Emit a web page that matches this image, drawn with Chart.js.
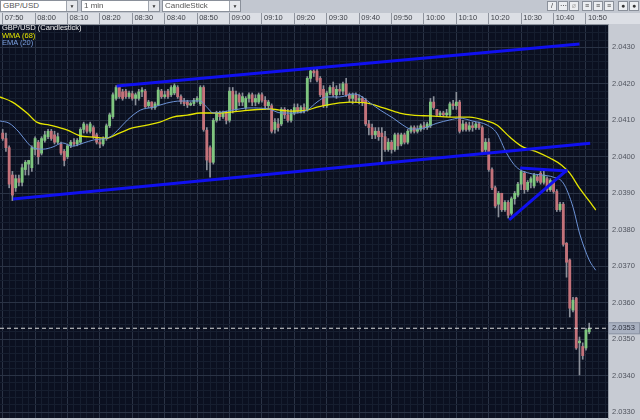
<!DOCTYPE html>
<html>
<head>
<meta charset="utf-8">
<script src="https://cdn.jsdelivr.net/npm/chart.js@4"></script>
<style>
  body { margin: 0; background: #c2c7d0; }
  #wrap { position: relative; width: 640px; height: 420px; overflow: hidden; font-family: "Liberation Sans", Arial, sans-serif; }
  #chart { position: absolute; left: 0; top: 0; }
  .sel { position: absolute; top: 0; height: 12px; background: #fff; border: 1px solid #8a909a; box-sizing: border-box;
         font-size: 8px; line-height: 10px; color: #555; padding-left: 2px; }
  .arr { position: absolute; right: 0; top: 0; width: 10px; height: 10px; background: #e6e8ec; border-left: 1px solid #a0a5ae;
         font-size: 5px; line-height: 10px; text-align: center; color: #333; }
  .ico { position: absolute; top: 1px; width: 10px; height: 10px; background: #eceef1; border: 1px solid #8a909a; box-sizing: border-box;
         font-size: 7px; line-height: 8px; text-align: center; color: #333; }
  #legend { position: absolute; left: 2px; top: 24px; font-size: 7.5px; line-height: 7.6px; }
</style>
</head>
<body>
<div id="wrap">
  <canvas id="chart" width="640" height="420"></canvas>
  <div class="sel" style="left:0;width:78px">GBP/USD<span class="arr">▼</span></div>
  <div class="sel" style="left:81px;width:79px">1 min<span class="arr">▼</span></div>
  <div class="sel" style="left:162px;width:79px">CandleStick<span class="arr">▼</span></div>
  <div class="ico" style="left:547px">/</div>
  <div class="ico" style="left:558px">⋯</div>
  <div class="ico" style="left:569px;color:#aaa">ø</div>
  <div class="ico" style="left:582px">≡</div>
  <div class="ico" style="left:593px">≡</div>
  <div class="ico" style="left:604px">≡</div>
  <div class="ico" style="left:618px">●</div>
  <div class="ico" style="left:629px">●</div>
  <div id="legend">
    <div style="color:#f0f0f0">GBP/USD (Candlestick)</div>
    <div style="color:#e6e600">WMA (68)</div>
    <div style="color:#7aa0e0">EMA (20)</div>
  </div>
</div>
<script>
// time labels on the top axis, one every 10 minutes from 07:50
const timeLabels = ['07:50','08:00','08:10','08:20','08:30','08:40','08:50','09:00','09:10','09:20',
  '09:30','09:40','09:50','10:00','10:10','10:20','10:30','10:40','10:50'];
const lastPrice = 2.0353;

// 1 minute candles, index = minutes after 07:50
const opens = [
  2.04065,2.0405,2.04025,2.0395,2.03915,2.0394,2.0393,2.03965,2.0398,2.0397,
  2.0402,2.0404,2.0401,2.04045,2.04055,2.0407,2.0406,2.0404,2.04035,2.04015,
  2.04,2.0403,2.0404,2.04035,2.0404,2.04075,2.04085,2.0407,2.0408,2.0406,
  2.0404,2.04035,2.0405,2.04085,2.0411,2.0416,2.0419,2.04178,2.0418,2.04165,
  2.04173,2.0416,2.0416,2.04178,2.0418,2.0414,2.0415,2.04135,2.04142,2.0418,
  2.04165,2.0418,2.0417,2.04175,2.0419,2.04165,2.04151,2.0415,2.04142,2.04146,
  2.04155,2.04145,2.0419,2.04073,2.04025,2.03985,2.041,2.0412,2.0411,2.0412,
  2.041,2.0418,2.0413,2.0417,2.0415,2.04135,2.0416,2.0417,2.0415,2.0415,
  2.0417,2.04155,2.0414,2.0414,2.04075,2.0409,2.0409,2.0413,2.04115,2.041,
  2.0412,2.04135,2.04125,2.04135,2.0413,2.04215,2.04235,2.04235,2.04215,2.04185,
  2.0414,2.04175,2.0419,2.0417,2.04185,2.0418,2.042,2.0417,2.0416,2.0417,
  2.04155,2.0416,2.04155,2.0409,2.0408,2.0406,2.0407,2.04065,2.04055,2.0402,
  2.0404,2.0402,2.0406,2.04035,2.0406,2.0404,2.0407,2.0408,2.0407,2.04075,
  2.04085,2.0408,2.04085,2.0415,2.0413,2.04115,2.0412,2.04115,2.04115,2.04145,
  2.0414,2.0415,2.04075,2.0409,2.04075,2.04085,2.0408,2.0409,2.0408,2.0402,
  2.0404,2.03965,2.03915,2.0387,2.039,2.03855,2.03875,2.03845,2.03885,2.03895,
  2.03925,2.03955,2.0391,2.0393,2.0392,2.03945,2.03955,2.0393,2.0394,2.0391,
  2.0393,2.03905,2.03855,2.0387,2.03763,2.03717,2.0358,2.03613,2.0349,2.0348,
  2.03476,2.0352
];
const highs = [
  2.04075,2.04065,2.0403,2.0396,2.0395,2.0395,2.0398,2.0399,2.0399,2.0403,
  2.04055,2.04045,2.04055,2.0407,2.04075,2.04075,2.0407,2.04065,2.0404,2.0402,
  2.04035,2.04045,2.0405,2.0405,2.0408,2.04095,2.0409,2.04095,2.04085,2.04065,
  2.0405,2.04055,2.0409,2.0412,2.04175,2.04195,2.04195,2.04185,2.04185,2.0418,
  2.0418,2.04175,2.04185,2.0419,2.04185,2.04155,2.04151,2.0415,2.0419,2.04185,
  2.0418,2.04185,2.04195,2.042,2.04195,2.0417,2.0416,2.04155,2.0415,2.0416,
  2.04165,2.04195,2.04195,2.0408,2.0403,2.04105,2.04125,2.04125,2.04125,2.04125,
  2.0419,2.0419,2.0418,2.04175,2.04175,2.04165,2.04175,2.04175,2.0417,2.04175,
  2.04175,2.04165,2.04155,2.04145,2.04105,2.04105,2.04135,2.04135,2.0413,2.0413,
  2.04145,2.04145,2.0414,2.04145,2.0422,2.0424,2.04243,2.0424,2.0422,2.04195,
  2.0418,2.04195,2.04205,2.04195,2.042,2.04205,2.04215,2.04175,2.04175,2.04175,
  2.0417,2.04165,2.0416,2.041,2.0409,2.0408,2.0408,2.0408,2.0407,2.0405,
  2.04045,2.04065,2.04065,2.04065,2.04065,2.04075,2.04085,2.04085,2.04085,2.0409,
  2.04095,2.04095,2.0416,2.04165,2.0413,2.04125,2.04125,2.0413,2.0415,2.04155,
  2.04177,2.04155,2.041,2.04095,2.04095,2.04095,2.04095,2.04095,2.04085,2.0405,
  2.0405,2.0397,2.0392,2.03905,2.039,2.0388,2.0388,2.0389,2.03905,2.0393,
  2.03964,2.0396,2.03935,2.03945,2.03955,2.0395,2.0396,2.0396,2.03945,2.0394,
  2.03935,2.0391,2.03875,2.03875,2.03765,2.0372,2.03615,2.03615,2.03506,2.0349,
  2.0353,2.03544
];
const lows = [
  2.04045,2.04015,2.03915,2.0388,2.03905,2.0392,2.0392,2.0395,2.0395,2.0396,
  2.04005,2.0398,2.04005,2.0404,2.0405,2.04045,2.04035,2.04035,2.04005,2.03975,
  2.03995,2.04025,2.0403,2.0403,2.04035,2.04065,2.04065,2.04065,2.0405,2.04035,
  2.04025,2.0403,2.04045,2.0408,2.04105,2.04155,2.0416,2.04155,2.0416,2.0416,
  2.04155,2.04142,2.04155,2.04165,2.04135,2.04135,2.0413,2.0413,2.0414,2.0416,
  2.0416,2.0416,2.04165,2.0417,2.0416,2.04145,2.0414,2.04135,2.0414,2.0414,
  2.0415,2.0414,2.0407,2.03964,2.03944,2.0398,2.04095,2.041,2.04105,2.0409,
  2.04095,2.0412,2.04125,2.0414,2.0414,2.0413,2.0415,2.0414,2.0414,2.04145,
  2.0415,2.0413,2.0413,2.04065,2.04065,2.0407,2.04085,2.04105,2.04095,2.04095,
  2.04115,2.0412,2.0412,2.0412,2.04125,2.04205,2.0422,2.04205,2.04165,2.04135,
  2.04135,2.0417,2.04165,2.0416,2.0417,2.0417,2.04165,2.0415,2.04145,2.0415,
  2.04145,2.0414,2.04085,2.0406,2.0405,2.0405,2.04045,2.03985,2.04015,2.04015,
  2.0401,2.04015,2.0402,2.0403,2.04035,2.04035,2.04065,2.04065,2.04065,2.0407,
  2.04075,2.04075,2.0408,2.0413,2.0411,2.0411,2.0411,2.0411,2.0411,2.0413,
  2.0413,2.04065,2.0407,2.0407,2.0407,2.0407,2.04075,2.04075,2.0401,2.0401,
  2.0396,2.0391,2.0386,2.03835,2.0385,2.0385,2.03832,2.0384,2.0387,2.0389,
  2.0391,2.039,2.03905,2.03915,2.03915,2.0393,2.03925,2.03925,2.03905,2.03905,
  2.039,2.0385,2.0385,2.03755,2.0367,2.03561,2.03575,2.03472,2.03402,2.03445,
  2.0347,2.03515
];
const closes = [
  2.0405,2.04025,2.03925,2.03895,2.0394,2.0393,2.0397,2.03985,2.0399,2.04025,
  2.0405,2.04,2.0405,2.0406,2.0407,2.0405,2.0404,2.04055,2.0401,2.0399,
  2.0403,2.0404,2.04035,2.04045,2.04075,2.0409,2.0407,2.0409,2.04055,2.0404,
  2.04035,2.0405,2.04085,2.04115,2.0417,2.0419,2.04165,2.0416,2.04165,2.04175,
  2.0416,2.0417,2.04178,2.04183,2.04137,2.0415,2.04135,2.04145,2.04183,2.04165,
  2.0417,2.04165,2.0419,2.04195,2.04165,2.04151,2.04146,2.04142,2.04146,2.04155,
  2.0416,2.0419,2.04075,2.03991,2.03985,2.041,2.0412,2.0411,2.0412,2.041,
  2.0418,2.0413,2.0417,2.0415,2.04165,2.0416,2.0417,2.0415,2.0416,2.0417,
  2.04155,2.0414,2.0415,2.0407,2.04095,2.0408,2.0413,2.04115,2.041,2.0412,
  2.04135,2.04125,2.04135,2.0413,2.04215,2.04235,2.0423,2.0421,2.0417,2.0414,
  2.04175,2.0419,2.0417,2.04185,2.0418,2.042,2.0417,2.0416,2.0417,2.04155,
  2.0416,2.0415,2.0409,2.0408,2.0406,2.0407,2.04055,2.04055,2.0402,2.0404,
  2.0402,2.0406,2.0403,2.0406,2.0404,2.0407,2.0408,2.0407,2.04075,2.04085,
  2.0408,2.0409,2.0415,2.04135,2.04115,2.0412,2.04115,2.0412,2.04145,2.0414,
  2.0415,2.0407,2.0409,2.04075,2.04085,2.0408,2.0409,2.0408,2.04015,2.0404,
  2.03965,2.03915,2.03865,2.039,2.03855,2.03875,2.0384,2.03885,2.039,2.03925,
  2.0396,2.0391,2.0393,2.0394,2.0395,2.03935,2.0393,2.0395,2.0391,2.03935,
  2.03905,2.03855,2.0387,2.0376,2.03711,2.03585,2.03607,2.03476,2.03495,2.03455,
  2.03525,2.0353
];

// WMA (68)
const wmaMinutes = [-0.8,3,7.5,10.5,14.5,20,24,28,32,36,40,44.5,48.5,52.5,57,61,67,71,81.5,89.5,
  94,97,102,107,112.5,117.5,122.5,126.5,132,138,144,149.5,152.5,156.5,160.5,165,169,172.5,175,178,181.5,183];
const wmaValues = [2.04164,2.04150,2.04120,2.04095,2.04087,2.04073,2.04057,2.04054,2.04051,2.04065,
  2.04079,2.04087,2.04095,2.04109,2.04114,2.04120,2.04120,2.04123,2.04131,2.04125,
  2.04128,2.04136,2.04145,2.04150,2.04147,2.04134,2.04120,2.04114,2.04112,2.04109,
  2.04109,2.04098,2.04087,2.04054,2.04027,2.04013,2.03996,2.03977,2.03955,2.03914,2.03873,2.03854];

// EMA (20)
const emaMinutes = [-0.8,2,5,7.5,9.5,12.5,15.5,18.5,21.5,25,28,33,35.5,38.5,42.5,46.5,50.5,55,61,63,
  65,71,76,82,86,90,94,97,100,104,108,110,113.5,116.5,120.5,123.5,126,130,134,138,
  141,145,149.5,152.5,155.5,158.5,162.5,166.5,170,173,176,178,181,183];
const emaValues = [2.04098,2.04092,2.04068,2.04040,2.04024,2.04021,2.04027,2.04038,2.04029,2.04038,
  2.04046,2.04054,2.04073,2.04101,2.04128,2.04136,2.04147,2.04153,2.04153,2.04136,
  2.04120,2.04128,2.04134,2.04131,2.04120,2.04120,2.04128,2.04150,2.04164,2.04164,
  2.04172,2.04169,2.04147,2.04128,2.04106,2.04087,2.04076,2.04079,2.04092,2.04101,
  2.04106,2.04098,2.04087,2.04065,2.04010,2.03972,2.03955,2.03950,2.03944,2.03928,
  2.03862,2.03791,2.03717,2.03689];

// hand drawn trend lines (minute, price)
const upperChannelX = [35.2, 178.0], upperChannelY = [2.04194, 2.04309];
const lowerChannelX = [3.2, 181.3], lowerChannelY = [2.03884, 2.04037];
const triangleTopX = [159.7, 174.2], triangleTopY = [2.03969, 2.03961];
const triangleBaseX = [156.3, 174.2], triangleBaseY = [2.03827, 2.03964];

const xMin = -0.83, xMax = 186.8;
const yMin = 2.03284, yMax = 2.04364;

function pts(xs, ys) {
  return xs.map((x, i) => ({ x: x, y: ys[i] }));
}
function isMajorX(v) { return Math.abs(v % 10) < 1e-6; }
function isMajorY(v) { return Math.round(v * 10000) % 10 === 0; }
function noPad(s) {
  s.paddingTop = 0; s.paddingBottom = 0; s.paddingLeft = 0; s.paddingRight = 0;
}

let upColor = '#7fc67f', downColor = '#c4727a';

// backgrounds and the last price box
const panels = {
  id: 'panels',
  beforeDraw(c) {
    let ctx = c.ctx, a = c.chartArea;
    ctx.save();
    ctx.fillStyle = '#c2c7d0';
    ctx.fillRect(0, 0, 640, 420);
    ctx.fillStyle = '#dcdfe5';
    ctx.fillRect(0, 13, 640, a.top - 13);
    ctx.fillStyle = '#c7cbd3';
    ctx.fillRect(a.right, a.top, 640 - a.right, 420 - a.top);
    ctx.fillStyle = '#0b1020';
    ctx.fillRect(a.left, a.top, a.right - a.left, a.bottom - a.top);
    ctx.restore();
  },
  afterDraw(c) {
    let ctx = c.ctx, a = c.chartArea;
    let y = c.scales.y.getPixelForValue(lastPrice);
    ctx.save();
    ctx.fillStyle = '#a9b1c1';
    ctx.fillRect(a.right, y - 6, 640 - a.right, 12);
    ctx.strokeStyle = '#8d95a5';
    ctx.strokeRect(a.right + 0.5, y - 5.5, 640 - a.right - 1, 11);
    ctx.fillStyle = '#303440';
    ctx.font = '7.5px "Liberation Sans"';
    ctx.textBaseline = 'middle';
    ctx.fillText(lastPrice.toFixed(4), a.right + 4, y);
    ctx.restore();
  }
};

let ctx = document.getElementById('chart').getContext('2d');
Chart.defaults.font.family = '"Liberation Sans", Arial, sans-serif';

let chart = new Chart(ctx, {
  type: 'bar',
  data: {
    datasets: [
      { type: 'line', data: pts(upperChannelX, upperChannelY), borderColor: '#1010f0', borderWidth: 3, pointRadius: 0 },
      { type: 'line', data: pts(lowerChannelX, lowerChannelY), borderColor: '#1010f0', borderWidth: 3, pointRadius: 0 },
      { type: 'line', data: pts(triangleTopX, triangleTopY), borderColor: '#1010f0', borderWidth: 3, pointRadius: 0 },
      { type: 'line', data: pts(triangleBaseX, triangleBaseY), borderColor: '#1010f0', borderWidth: 3, pointRadius: 0 },
      { type: 'line', data: pts([xMin, xMax], [lastPrice, lastPrice]), borderColor: '#d8d8d8', borderWidth: 1,
        borderDash: [4, 3], pointRadius: 0 },
      { type: 'line', data: pts(emaMinutes, emaValues), borderColor: '#6c92d6', borderWidth: 1, pointRadius: 0,
        cubicInterpolationMode: 'monotone' },
      { type: 'line', data: pts(wmaMinutes, wmaValues), borderColor: '#e6e600', borderWidth: 1.3, pointRadius: 0,
        cubicInterpolationMode: 'monotone' },
      { data: opens.map((o, i) => ({ x: i, y: [o, closes[i]] })), grouped: false, barThickness: 2.2, borderWidth: 0,
        backgroundColor: opens.map((o, i) => closes[i] >= o ? upColor : downColor) },
      { data: lows.map((l, i) => ({ x: i, y: [l, highs[i]] })), grouped: false, barThickness: 1, borderWidth: 0,
        backgroundColor: '#8b909a' }
    ]
  },
  options: {
    responsive: false,
    animation: false,
    layout: { padding: { top: 13, bottom: 2, left: 0, right: 0 } },
    plugins: { legend: { display: false }, tooltip: { enabled: false } },
    scales: {
      x: {
        type: 'linear', position: 'top', min: xMin, max: xMax, offset: false,
        afterBuildTicks: s => {
          let t = [];
          for (let m = 0; m <= 186; m += 2) t.push({ value: m });
          s.ticks = t;
        },
        afterFit: s => { s.height = 11; noPad(s); },
        grid: {
          offset: false, drawTicks: true, tickLength: 11, tickWidth: 1,
          color: c => c.tick && isMajorX(c.tick.value) ? '#2a3345' : '#161e2f',
          tickColor: c => c.tick && isMajorX(c.tick.value) ? '#8f949e' : 'rgba(0,0,0,0)'
        },
        border: { display: true, color: '#8f949e' },
        ticks: {
          autoSkip: false, maxRotation: 0, minRotation: 0, align: 'start', padding: -9.5,
          color: '#3c3f46', font: { size: 7.5 },
          callback: v => isMajorX(v) ? ' ' + timeLabels[Math.round(v / 10)] : ''
        }
      },
      y: {
        position: 'right', min: yMin, max: yMax,
        afterBuildTicks: s => {
          let t = [];
          for (let k = 20330; k <= 20436; k += 2) t.push({ value: k / 10000 });
          s.ticks = t;
        },
        afterFit: s => { s.width = 32; noPad(s); },
        grid: {
          drawTicks: false,
          color: c => c.tick && isMajorY(c.tick.value) ? '#2a3345' : '#161e2f'
        },
        border: { display: true, color: '#9aa0aa' },
        ticks: {
          autoSkip: false, padding: 4, color: '#50545e', font: { size: 7.5 },
          callback: v => isMajorY(v) ? v.toFixed(4) : ''
        }
      }
    }
  },
  plugins: [panels]
});
</script>
</body>
</html>
